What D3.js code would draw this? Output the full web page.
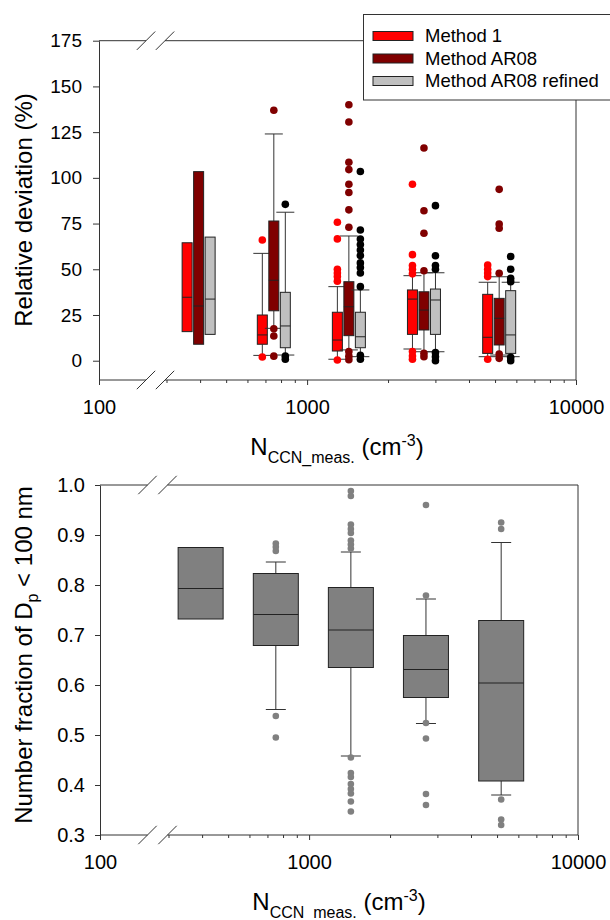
<!DOCTYPE html>
<html>
<head>
<meta charset="utf-8">
<script src="https://cdn.jsdelivr.net/npm/d3@7/dist/d3.min.js"></script>
<style>
    body { margin: 0; background: #fff; }
    svg text { font-family: "Liberation Sans", Arial, sans-serif; fill: #000; }
</style>
</head>
<body>
<div id="chart"></div>
<script>
// N_CCN class positions (cm-3), shared by both panels
var groupN = [395, 752, 1430, 2720, 5180];
var methods = ["Method 1", "Method AR08", "Method AR08 refined"];

// x axis ticks
var xMajor = [100, 1000, 10000];
var xMinor = [300, 400, 500, 600, 700, 800, 900, 2000, 3000, 4000, 5000, 6000, 7000, 8000, 9000];

// top panel: relative deviation (%)
var devTicks = [0, 25, 50, 75, 100, 125, 150, 175];

var m1Q1  = [15.9, 9.0, 5.3, 14.4, 4.0];
var m1Med = [34.7, 14.1, 11.3, 33.7, 12.8];
var m1Q3  = [64.5, 25.0, 26.5, 38.7, 36.3];
var m1Lo  = [null, 2.9, 0.8, 6.4, 2.2];
var m1Hi  = [null, 58.7, 40.5, 46.5, 42.9];
var m1Out = [[], [66.0, 2.0], [75.7, 66.6, 50, 48, 46, 43.5, 0.4],
             [96.5, 58, 52, 50, 47.5, 5, 2.6, 0.8], [52.3, 50, 48, 46, 0.8]];

var arQ1  = [9.0, 27.3, 13.7, 16.8, 8.6];
var arMed = [29.9, 44.0, 29.5, 27.7, 23.2];
var arQ3  = [103.4, 76.4, 43.2, 37.7, 34.1];
var arLo  = [null, 17.7, 5.9, 4.9, 3.1];
var arHi  = [null, 124.0, 68.2, 48.1, 45.9];
var arOut = [[], [137, 17.5, 13.5, 2.5], [140, 130.5, 108.5, 104.5, 96.5, 92, 82.5, 73, 5, 2.5, 0.5],
             [116.3, 82, 69.7, 49.2, 4, 2.2], [93.7, 74.8, 72.4, 47.8, 3.7, 1.3]];

var refQ1  = [14.4, 7.1, 7.1, 14.4, 4.0];
var refMed = [33.7, 19.0, 13.1, 33.2, 14.1];
var refQ3  = [67.6, 37.4, 26.5, 39.2, 38.3];
var refLo  = [null, 3.1, 2.2, 4.9, 2.2];
var refHi  = [null, 81.2, 38.7, 48.1, 42.9];
var refOut = [[], [85.5, 2.5, 0.8], [103.5, 71.5, 66.5, 63.5, 60.5, 57.5, 53.5, 51, 48, 40.5, 3, 0.8],
              [84.8, 57.4, 52, 50, 4.4, 2.2, 0], [57, 50, 45, 43.2, 1.8, 0]];

// bottom panel: number fraction of Dp < 100 nm
var fracTicks = [0.3, 0.4, 0.5, 0.6, 0.7, 0.8, 0.9, 1.0];
var frQ1  = [0.732, 0.679, 0.635, 0.575, 0.408];
var frMed = [0.793, 0.741, 0.710, 0.631, 0.604];
var frQ3  = [0.875, 0.823, 0.795, 0.699, 0.729];
var frLo  = [null, 0.551, 0.458, 0.523, 0.380];
var frHi  = [null, 0.846, 0.866, 0.772, 0.885];
var frOut = [[], [0.883, 0.876, 0.868, 0.538, 0.495],
             [0.988, 0.978, 0.921, 0.912, 0.904, 0.889, 0.881, 0.873, 0.455, 0.424, 0.416, 0.402, 0.392, 0.383, 0.367, 0.347],
             [0.96, 0.779, 0.524, 0.493, 0.382, 0.36],
             [0.925, 0.912, 0.371, 0.331, 0.32]];

var boxFill = ["#ff0000", "#7f0000", "#c0c0c0"];
var dotFill = ["#ff0000", "#800000", "#000000"];
var lineCol = "#333";

var svg = d3.select("#chart").append("svg")
    .attr("width", 610)
    .attr("height", 920);

// panel frames (x axis has a break between 100 and 300)
var pA = { left: 99, right: 576, top: 40.7, bottom: 380, brk: [146, 165] };
var pB = { left: 100, right: 578, top: 485, bottom: 835, brk: [147.5, 167.5] };

var xA = d3.scaleLinear().domain([2, Math.log10(300), 4]).range([pA.left, 166.5, pA.right]);
var xB = d3.scaleLinear().domain([2, Math.log10(300), 4]).range([pB.left, 168.5, pB.right]);
var yA = d3.scaleLinear().domain([-10.55, 175]).range([pA.bottom, pA.top]);
var yB = d3.scaleLinear().domain([0.3, 1.0]).range([pB.bottom, pB.top]);

function frame(p) {
    var g = svg.append("g").attr("stroke", lineCol).attr("fill", "none");
    [p.top, p.bottom].forEach(function (yy) {
        g.append("line").attr("x1", p.left).attr("x2", p.brk[0]).attr("y1", yy).attr("y2", yy);
        g.append("line").attr("x1", p.brk[1]).attr("x2", p.right).attr("y1", yy).attr("y2", yy);
        p.brk.forEach(function (bx) {
            g.append("line")
                .attr("x1", bx - 9.2).attr("y1", yy + 9.2)
                .attr("x2", bx + 9.2).attr("y2", yy - 9.2);
        });
    });
    g.append("line").attr("x1", p.right).attr("x2", p.right).attr("y1", p.top).attr("y2", p.bottom);
}

function xAxis(p, xs) {
    var maj = svg.append("g")
        .attr("transform", "translate(0," + p.bottom + ")")
        .call(d3.axisBottom(xs).tickValues(xMajor.map(Math.log10))
            .tickFormat(function (d) { return String(Math.round(Math.pow(10, d))); })
            .tickSize(5).tickPadding(15));
    maj.select(".domain").remove();
    maj.selectAll("line").attr("stroke", lineCol);
    maj.selectAll("text").style("font-size", "20px");
    var mnr = svg.append("g")
        .attr("transform", "translate(0," + p.bottom + ")")
        .call(d3.axisBottom(xs).tickValues(xMinor.map(Math.log10)).tickFormat("").tickSize(3));
    mnr.select(".domain").remove();
    mnr.selectAll("line").attr("stroke", lineCol);
}

function yAxis(p, ys, ticks, fmt, size, pad, fs) {
    var g = svg.append("g")
        .attr("transform", "translate(" + p.left + ",0)")
        .call(d3.axisLeft(ys).tickValues(ticks).tickFormat(fmt).tickSize(size).tickPadding(pad).tickSizeOuter(0));
    g.select(".domain").attr("stroke", lineCol);
    g.selectAll("line").attr("stroke", lineCol);
    g.selectAll("text").style("font-size", fs);
}

function xTitle(cx, y) {
    var t = svg.append("text").attr("x", cx).attr("y", y)
        .attr("text-anchor", "middle").style("font-size", "24px");
    t.append("tspan").text("N");
    t.append("tspan").attr("dy", 8).style("font-size", "16px").text("CCN_meas.");
    t.append("tspan").attr("dy", -8).text(" (cm");
    t.append("tspan").attr("dy", -9).style("font-size", "16px").text("-3");
    t.append("tspan").attr("dy", 9).text(")");
}

// draw one series of boxes; returns the outlier list so dots go on top later
function boxes(xs, ys, off, w, capW, q1, med, q3, lo, hi, fill) {
    var g = svg.append("g");
    groupN.forEach(function (n, i) {
        var cx = xs(Math.log10(n)) + off;
        [[q1[i], lo[i]], [q3[i], hi[i]]].forEach(function (wk) {
            if (wk[1] == null) return;
            g.append("line").attr("x1", cx).attr("x2", cx)
                .attr("y1", ys(wk[0])).attr("y2", ys(wk[1]))
                .attr("stroke", lineCol);
            g.append("line").attr("x1", cx - capW / 2).attr("x2", cx + capW / 2)
                .attr("y1", ys(wk[1])).attr("y2", ys(wk[1]))
                .attr("stroke", lineCol);
        });
        g.append("rect")
            .attr("x", cx - w / 2).attr("width", w)
            .attr("y", ys(q3[i])).attr("height", ys(q1[i]) - ys(q3[i]))
            .attr("fill", fill).attr("stroke", "#222");
        g.append("line").attr("x1", cx - w / 2).attr("x2", cx + w / 2)
            .attr("y1", ys(med[i])).attr("y2", ys(med[i]))
            .attr("stroke", "#222");
    });
}

function dots(xs, ys, off, out, color, r) {
    var pts = [];
    groupN.forEach(function (n, i) {
        out[i].forEach(function (v) { pts.push({ n: n, v: v }); });
    });
    svg.append("g").selectAll("circle")
        .data(pts)
        .enter()
        .append("circle")
        .attr("cx", d => xs(Math.log10(d.n)) + off)
        .attr("cy", d => ys(d.v))
        .attr("r", r)
        .attr("fill", color);
}

// ---------- top panel ----------
frame(pA);
xAxis(pA, xA);
yAxis(pA, yA, devTicks, d3.format("d"), 6, 11, "19px");

var offs = [-11.5, 0, 11.5];
var topStats = [
    [m1Q1, m1Med, m1Q3, m1Lo, m1Hi, m1Out],
    [arQ1, arMed, arQ3, arLo, arHi, arOut],
    [refQ1, refMed, refQ3, refLo, refHi, refOut]
];
topStats.forEach(function (s, k) {
    boxes(xA, yA, offs[k], 10, 18, s[0], s[1], s[2], s[3], s[4], boxFill[k]);
});
topStats.forEach(function (s, k) {
    dots(xA, yA, offs[k], s[5], dotFill[k], 3.8);
});

// legend
var lg = svg.append("g");
lg.append("rect").attr("x", 363.5).attr("y", 14.5).attr("width", 260).attr("height", 85.5)
    .attr("fill", "#fff").attr("stroke", lineCol);
lg.selectAll(".sw")
    .data(methods)
    .enter()
    .append("rect")
    .attr("x", 373).attr("width", 40)
    .attr("y", (d, i) => 31.5 + i * 22.5).attr("height", 9)
    .attr("fill", (d, i) => boxFill[i]).attr("stroke", "#222");
lg.selectAll(".lt")
    .data(methods)
    .enter()
    .append("text")
    .attr("x", 425)
    .attr("y", (d, i) => 36 + i * 22.5)
    .attr("dy", "0.35em")
    .style("font-size", "18.5px")
    .text(d => d);

xTitle(337, 455);
svg.append("text")
    .attr("transform", "translate(32,210) rotate(-90)")
    .attr("text-anchor", "middle")
    .style("font-size", "24px")
    .text("Relative deviation (%)");

// ---------- bottom panel ----------
frame(pB);
xAxis(pB, xB);
yAxis(pB, yB, fracTicks, d3.format(".1f"), 5, 10, "20px");

boxes(xB, yB, 0, 45, 20, frQ1, frMed, frQ3, frLo, frHi, "#808080");
dots(xB, yB, 0, frOut, "#808080", 3.3);

xTitle(339, 910);
var yt = svg.append("text")
    .attr("transform", "translate(32,655) rotate(-90)")
    .attr("text-anchor", "middle")
    .style("font-size", "24px");
yt.append("tspan").text("Number fraction of D");
yt.append("tspan").attr("dy", 6).style("font-size", "16px").text("p");
yt.append("tspan").attr("dy", -6).text(" < 100 nm");
</script>
</body>
</html>
